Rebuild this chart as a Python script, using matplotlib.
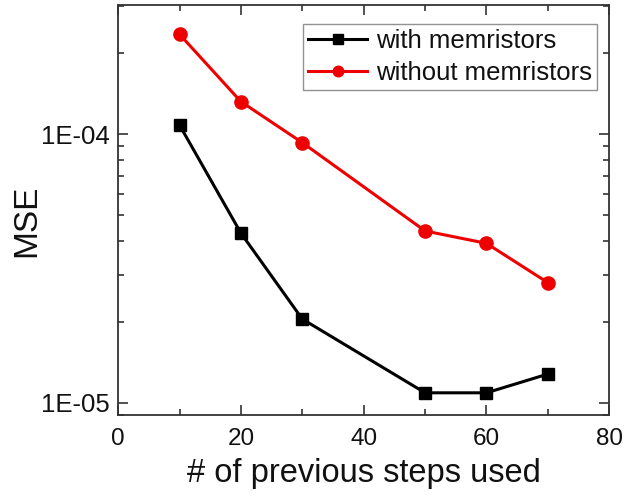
import matplotlib
matplotlib.use("Agg")
import matplotlib.pyplot as plt
from matplotlib.ticker import FixedLocator, FixedFormatter, LogLocator, NullFormatter, MultipleLocator

plt.rcParams['font.family'] = ['Liberation Sans', 'DejaVu Sans']

steps = [10, 20, 30, 50, 60, 70]
mse_with = [1.08e-4, 4.28e-5, 2.05e-5, 1.09e-5, 1.09e-5, 1.28e-5]
mse_without = [2.35e-4, 1.32e-4, 9.29e-5, 4.36e-5, 3.92e-5, 2.80e-5]

x_ticks = [0, 20, 40, 60, 80]
y_ticks = [1e-5, 1e-4]
y_tick_labels = ["1E-05", "1E-04"]

fig = plt.figure(figsize=(6.42, 4.99), dpi=100)
ax = fig.add_axes([0.184, 0.168, 0.765, 0.822])

ax.plot(steps, mse_with, color='black', lw=2.2, marker='s', ms=8.5,
        label='with memristors')
ax.plot(steps, mse_without, color='#ee0000', lw=2.2, marker='o', ms=9.5,
        label='without memristors')

ax.set_yscale('log')
ax.set_xlim(0, 80)
ax.set_ylim(9.0e-6, 3.02e-4)

ax.xaxis.set_major_locator(FixedLocator(x_ticks))
ax.xaxis.set_minor_locator(MultipleLocator(10))
ax.yaxis.set_major_locator(FixedLocator(y_ticks))
ax.yaxis.set_major_formatter(FixedFormatter(y_tick_labels))
ax.yaxis.set_minor_locator(LogLocator(base=10, subs=range(2, 10)))
ax.yaxis.set_minor_formatter(NullFormatter())

ax.tick_params(which='both', direction='in', top=True, right=True,
               colors='#333333', labelcolor='#111111', width=1.2)
ax.tick_params(which='major', length=7)
ax.tick_params(which='minor', length=4)
ax.tick_params(axis='x', which='major', labelsize=17.5, pad=9)
ax.tick_params(axis='y', which='major', labelsize=18.5, pad=6)
for s in ax.spines.values():
    s.set_color('#333333')
    s.set_linewidth(1.3)

ax.set_xlabel('# of previous steps used', fontsize=23.5, labelpad=6,
              color='#111111')
ax.set_ylabel('MSE', fontsize=24, color='#111111')
ax.yaxis.set_label_coords(-0.155, 0.475)

leg = ax.legend(loc='upper right', bbox_to_anchor=(0.976, 0.954), fontsize=18.5,
                frameon=True, fancybox=False, edgecolor='#777777',
                handlelength=2.3, handletextpad=0.35, borderpad=0.2,
                labelspacing=0.3, borderaxespad=0.0, markerscale=0.8)
leg.get_frame().set_linewidth(1.0)
for t in leg.get_texts():
    t.set_color('#111111')

fig.savefig('out.png', dpi=100)
